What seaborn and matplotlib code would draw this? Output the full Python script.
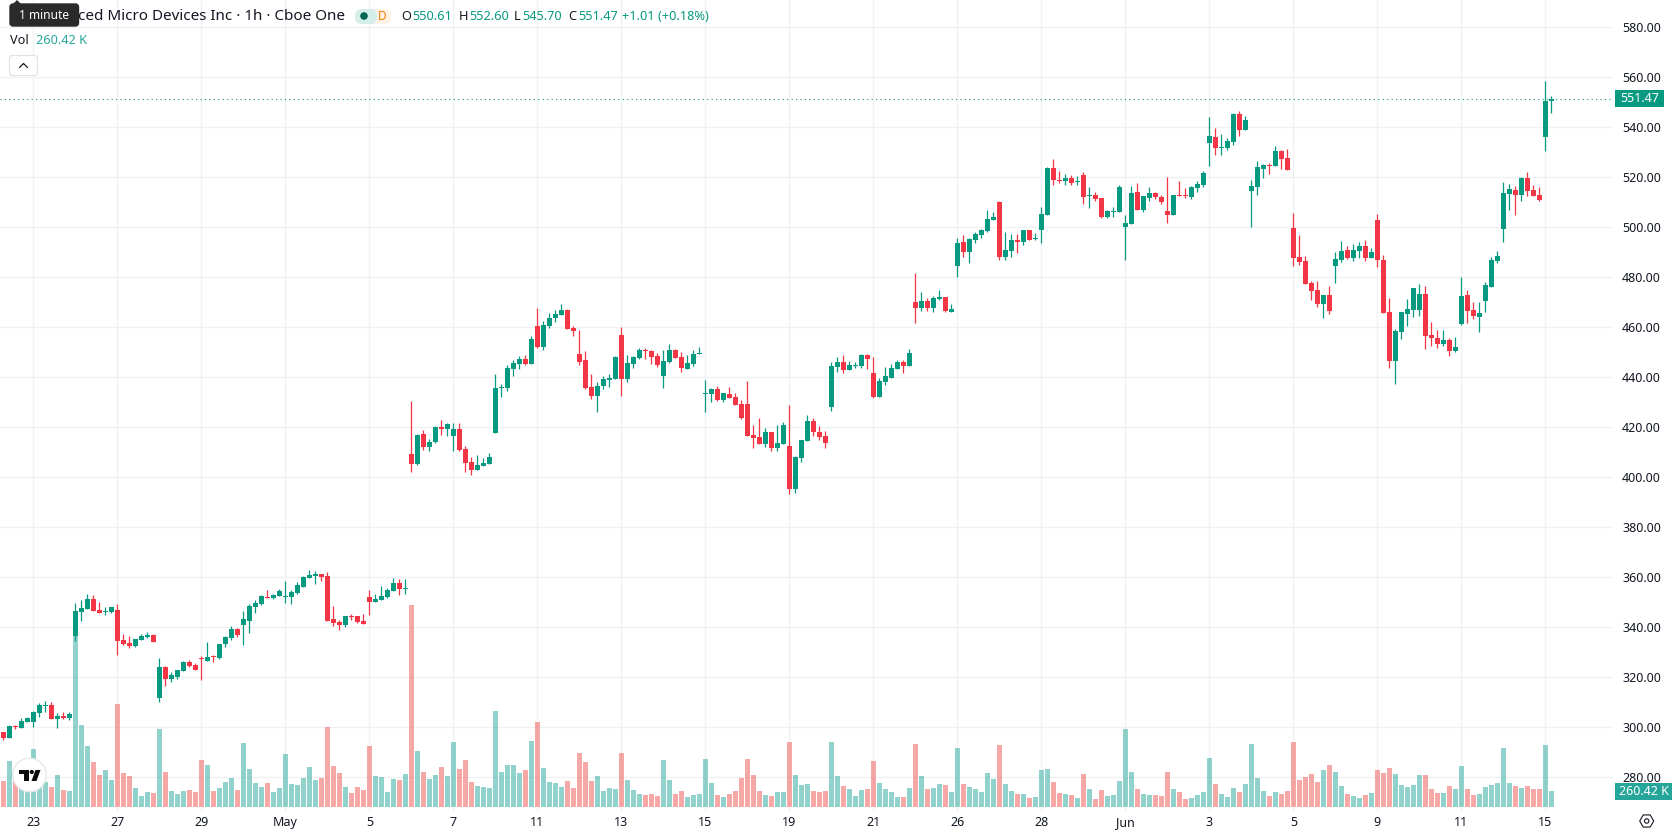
import matplotlib
matplotlib.use("Agg")
import matplotlib.pyplot as plt
from matplotlib.patches import Circle, FancyBboxPatch, Polygon, Rectangle, RegularPolygon
import numpy as np
import pandas as pd
import seaborn as sns

# Hourly session data, oldest first
opens = [
    298.1,295.7,300.4,299.7,302.1,302.1,305.7,308.5,308.9,303.3,
    304.5,303.7,336.5,346.1,347.3,351.3,346.9,346.2,346.1,346.9,
    334.9,333.7,332.5,334.9,336.1,336.9,311.7,324.1,319.3,320.1,
    322.5,326.1,324.9,327.6,326.5,328.7,327.7,333.3,335.7,339.3,
    340.9,342.5,348.1,349.3,352.0,351.7,352.5,352.1,352.1,353.7,
    356.1,359.7,360.7,361.3,360.5,343.3,342.1,340.9,344.5,344.5,
    342.5,352.1,350.1,350.9,352.1,354.5,357.7,355.3,409.5,405.5,
    417.5,412.3,414.3,420.3,419.5,416.7,419.5,411.5,406.3,403.1,
    404.7,405.5,417.9,435.9,435.9,443.5,445.5,447.5,445.5,460.7,
    452.3,460.7,463.9,465.1,467.1,459.9,449.5,447.1,436.3,432.7,
    436.7,439.1,439.5,457.1,439.5,445.5,447.9,451.1,450.7,448.7,
    440.7,446.3,451.1,448.3,443.5,445.5,449.5,433.5,433.5,435.5,
    431.1,433.5,432.3,429.5,429.5,417.1,416.3,413.5,418.3,411.9,
    413.5,412.7,395.5,407.9,414.7,422.7,418.3,416.7,428.3,444.3,
    446.3,443.1,444.5,444.7,449.1,441.9,432.3,438.3,439.9,443.5,
    446.1,444.5,470.1,467.7,470.5,467.7,471.3,472.1,466.1,484.5,
    494.1,490.1,494.9,496.9,498.5,502.9,510.1,488.1,490.5,494.9,
    494.1,498.9,495.3,498.9,504.9,523.7,518.9,518.5,519.7,518.1,
    520.9,512.5,512.9,511.7,504.1,506.1,506.1,500.1,501.3,514.1,
    506.9,511.7,513.7,512.1,506.5,504.9,512.9,512.9,512.1,515.7,
    516.9,533.7,536.1,531.7,531.7,534.1,545.3,538.9,514.5,516.1,
    523.3,524.9,524.5,530.5,527.7,499.7,488.1,486.5,477.7,474.9,
    469.3,472.9,484.5,486.9,490.9,487.7,490.5,492.5,487.7,502.9,
    486.9,466.1,446.5,458.1,465.3,466.9,466.9,473.3,456.9,455.7,
    453.3,454.9,450.5,461.3,472.9,466.9,464.1,470.5,476.1,486.5,
    499.3,513.3,514.9,512.9,519.7,514.9,512.9,536.1,550.61,
]
highs = [
    298.1,300.9,300.9,303.7,304.1,306.5,309.9,310.4,310.1,305.7,
    306.1,306.0,349.7,350.9,353.3,352.9,350.1,348.1,348.1,349.3,
    337.3,336.5,335.3,337.3,338.1,337.3,327.7,324.5,322.1,322.9,
    326.5,326.9,325.7,328.5,334.1,328.9,333.3,336.5,340.5,339.7,
    346.5,349.3,350.9,352.9,354.9,353.3,355.3,358.5,354.9,358.1,
    360.5,362.9,362.5,361.3,362.1,348.5,342.9,344.5,345.3,344.5,
    345.3,354.9,353.3,356.5,355.7,359.7,359.3,359.3,430.7,417.5,
    419.1,415.5,420.7,423.1,421.9,421.9,421.9,412.7,408.3,409.1,
    407.9,409.9,441.5,437.5,445.1,447.1,448.7,449.1,456.7,467.9,
    462.7,465.9,467.1,469.5,467.5,460.7,459.1,450.7,441.5,438.3,
    440.7,441.5,448.7,460.3,449.1,448.7,451.9,451.9,451.1,449.9,
    451.1,453.5,451.5,450.3,449.1,451.1,452.3,439.1,435.9,436.7,
    433.9,436.3,433.9,431.1,438.7,421.1,423.9,419.9,418.3,421.1,
    422.3,429.1,408.7,415.1,425.1,423.9,420.7,418.7,446.3,448.3,
    449.1,446.7,446.3,449.5,449.5,448.3,439.9,444.3,445.5,447.1,
    446.9,451.3,481.7,474.1,471.7,472.5,474.9,472.1,469.3,495.7,
    496.9,495.7,498.1,499.3,506.9,506.1,510.5,498.1,497.3,497.3,
    498.9,498.9,497.7,508.1,524.1,527.3,522.5,521.3,520.9,520.5,
    522.1,516.1,514.1,511.7,506.9,508.1,516.9,504.9,516.5,517.7,
    512.5,516.1,514.1,512.9,520.1,512.9,518.5,515.7,516.5,518.5,
    522.5,544.1,539.7,537.3,535.7,545.7,546.5,544.5,518.9,526.5,
    525.3,525.7,532.5,530.9,531.3,505.7,496.9,488.5,478.5,478.5,
    472.9,476.5,490.1,494.5,492.5,493.3,494.1,494.9,491.7,505.3,
    488.9,471.7,459.3,466.1,471.3,475.7,477.3,476.5,462.1,458.9,
    458.9,455.7,456.1,480.1,474.9,470.1,470.1,478.1,488.1,490.5,
    518.1,517.3,516.5,520.1,522.1,516.9,516.1,558.5,552.60,
]
lows = [
    294.9,295.7,299.3,299.7,302.1,300.1,304.1,306.1,303.3,299.7,
    303.3,302.9,334.5,342.5,347.3,346.5,345.7,344.9,345.7,328.9,
    332.9,331.7,332.1,334.9,335.7,334.1,310.1,316.5,318.1,319.3,
    322.5,324.1,322.9,318.9,326.5,326.1,327.3,332.1,334.9,336.1,
    332.9,337.7,345.7,348.9,351.7,351.3,352.5,349.7,349.3,353.3,
    356.1,359.7,357.3,358.5,342.5,340.5,338.9,340.1,342.9,341.7,
    341.3,344.9,350.1,350.9,351.7,354.5,352.9,353.3,402.3,405.1,
    411.1,410.7,413.9,417.1,416.7,410.7,410.7,402.3,401.1,403.1,
    404.7,405.5,417.9,432.3,434.7,440.7,443.5,445.1,445.5,451.9,
    451.1,459.9,462.3,465.1,459.5,456.7,445.1,435.5,431.5,426.3,
    435.5,436.3,439.5,432.7,438.3,443.9,447.5,447.5,445.5,444.3,
    435.9,445.9,447.9,442.3,443.5,444.7,449.5,426.3,430.3,430.7,
    430.3,431.9,429.1,423.5,416.7,411.9,413.5,412.3,410.7,410.7,
    413.5,393.5,393.9,406.3,414.7,416.7,415.1,411.9,426.7,442.3,
    441.9,443.1,443.9,443.9,443.5,431.9,432.3,437.1,439.9,443.5,
    441.7,444.5,461.7,466.5,466.5,466.1,470.9,466.1,466.1,480.1,
    488.1,485.7,493.7,495.7,498.1,502.9,486.9,486.9,488.1,489.7,
    492.9,494.9,494.9,493.7,504.9,516.9,517.7,516.9,516.9,516.9,
    509.3,507.7,510.5,503.7,503.7,504.1,506.1,486.9,501.3,506.9,
    506.1,510.5,511.3,509.3,501.7,504.9,512.5,511.7,511.3,514.1,
    516.1,524.5,528.9,528.9,530.9,532.9,536.5,538.9,500.1,512.9,
    519.7,521.3,524.5,523.3,522.9,484.5,484.9,477.3,470.9,468.1,
    463.9,465.3,477.7,486.1,487.3,486.5,487.7,486.5,487.7,484.1,
    465.7,443.7,437.3,455.3,460.5,464.1,464.5,451.3,452.5,451.7,
    452.5,448.5,450.1,460.9,461.7,463.3,458.1,466.1,476.1,485.7,
    494.1,506.9,504.9,510.5,512.5,512.5,510.5,530.5,545.70,
]
closes = [
    295.7,300.5,300.0,302.5,303.7,306.1,308.9,308.9,303.3,304.5,
    303.7,305.3,346.5,347.7,351.3,346.5,345.7,346.5,348.1,334.5,
    333.3,332.5,335.3,336.5,336.9,334.1,324.1,319.3,320.9,322.9,
    326.1,324.5,322.9,327.2,328.1,328.3,333.3,336.1,339.3,336.9,
    343.3,348.5,349.7,352.5,351.7,352.9,354.5,352.5,354.1,356.9,
    360.1,360.9,361.3,360.1,342.5,341.7,340.9,344.5,344.1,342.1,
    341.3,350.1,351.3,352.5,354.9,357.7,355.3,355.7,405.5,417.1,
    412.3,414.3,420.3,419.5,421.5,419.5,411.1,405.9,403.1,405.1,
    405.9,408.3,435.9,436.3,443.9,445.9,447.5,445.5,455.5,452.3,
    461.1,463.9,465.5,467.1,459.5,458.7,446.3,435.9,432.7,436.7,
    439.5,439.9,448.3,439.5,445.9,448.3,451.1,450.7,448.3,445.1,
    446.7,451.1,447.9,443.9,445.9,449.5,449.9,433.9,435.5,431.1,
    433.9,431.9,429.1,423.9,416.7,415.9,413.5,418.3,411.9,413.9,
    421.1,395.5,408.3,415.1,422.7,418.3,416.3,413.9,444.7,446.3,
    443.1,445.1,444.9,449.1,447.5,432.3,438.7,440.7,443.9,446.3,
    444.5,449.7,467.7,470.5,467.7,471.7,472.1,466.5,467.3,493.7,
    490.1,495.3,497.3,498.9,503.3,504.1,488.1,490.9,494.9,494.1,
    498.9,494.9,495.7,505.3,523.7,518.9,518.5,519.7,517.7,518.5,
    512.1,512.9,511.3,504.1,506.5,506.5,516.1,501.7,513.7,506.9,
    512.5,513.7,512.1,510.1,504.9,512.9,512.5,512.5,516.1,517.3,
    521.7,536.5,531.7,532.1,534.5,545.3,538.9,542.9,516.5,524.1,
    524.9,524.5,530.5,527.3,522.9,487.7,486.1,477.3,474.5,469.3,
    472.9,466.5,487.3,490.5,487.7,490.9,492.5,487.7,490.1,486.9,
    465.7,446.5,458.5,466.1,467.3,475.7,473.3,456.5,455.7,453.3,
    454.9,450.5,452.1,472.5,466.5,464.5,465.7,476.9,486.9,488.5,
    513.7,515.3,512.9,519.7,514.5,512.5,510.9,550.46,551.47,
]
# Traded volume per bar, thousands of shares
volumes = [
    423,749,440,488,400,944,651,407,326,521,
    277,260,2800,1335,993,733,521,602,440,1677,
    554,505,309,179,244,228,1270,570,260,212,
    260,277,244,765,684,260,309,407,472,277,
    1042,619,391,326,391,244,309,863,374,358,
    472,651,440,472,1302,668,554,326,228,326,
    277,993,505,488,244,456,440,537,3289,912,
    570,456,521,651,505,1058,619,765,407,342,
    326,309,1563,570,684,684,554,602,1075,1384,
    635,407,391,326,423,309,879,733,423,505,
    260,309,293,879,440,277,212,195,212,179,
    765,440,212,260,163,195,212,781,391,195,
    163,212,260,472,781,521,260,195,179,244,
    244,1058,521,358,374,260,244,260,1058,505,
    342,293,179,277,293,749,391,293,244,163,
    163,309,1026,505,293,309,374,358,244,961,
    374,326,293,244,554,456,1009,374,260,212,
    212,147,163,602,619,407,228,212,195,147,
    537,293,130,277,179,195,423,1270,570,293,
    212,195,195,179,570,293,244,130,147,195,
    244,798,374,212,163,309,244,374,1026,472,
    260,179,244,212,260,1058,440,488,537,407,
    602,684,570,342,212,179,147,195,228,602,
    554,635,537,358,326,358,521,521,293,228,
    228,342,293,668,293,195,212,326,358,391,
    961,391,342,309,342,293,293,1009,260.42,
]

date_labels = ["23", "27", "29", "May", "5", "7", "11", "13", "15", "19", "21",
               "26", "28", "Jun", "3", "5", "9", "11", "15"]
date_positions = list(range(5, 258, 14))
price_ticks = list(range(280, 581, 20))

UP = "#089981"
DOWN = "#f23645"
VOL_UP = "#26a69a"
VOL_DOWN = "#ef5350"
GRID = "#f0f1f3"
TEXT = "#131722"
FONT = "Noto Sans"

W, H = 1678, 835
PANE_RIGHT, PANE_BOTTOM = 1613, 811

sns.set_theme(style="white")
plt.rcParams["font.family"] = [FONT, "DejaVu Sans"]

df = pd.DataFrame({"i": np.arange(len(opens)), "open": opens, "high": highs,
                   "low": lows, "close": closes, "volume": volumes})
df["dir"] = np.where(df["close"] >= df["open"], "up", "down")

fig = plt.figure(figsize=(W / 100, H / 100), dpi=100, facecolor="white")
rect = [0, (H - PANE_BOTTOM) / H, PANE_RIGHT / W, PANE_BOTTOM / H]
xlim = (-0.555, 268.28)
ylim = (266.52, 590.92)

# Bottom layer: grid and the price and date scales
grid_ax = fig.add_axes(rect, zorder=0)
grid_ax.set_xlim(xlim)
grid_ax.set_ylim(ylim)
grid_ax.set_xticks(date_positions)
grid_ax.set_xticklabels(date_labels)
grid_ax.set_yticks(price_ticks)
grid_ax.set_yticklabels([f"{p:.2f}" for p in price_ticks])
grid_ax.yaxis.tick_right()
grid_ax.tick_params(axis="y", length=0, pad=6.5, labelsize=9, labelcolor=TEXT)
grid_ax.tick_params(axis="x", length=0, pad=3.5, labelsize=9, labelcolor=TEXT)
grid_ax.grid(True, color=GRID, linewidth=1.0)
grid_ax.set_axisbelow(True)
for spine in grid_ax.spines.values():
    spine.set_visible(False)
for lab in grid_ax.get_xticklabels():
    if lab.get_text() in ("May", "Jun"):
        lab.set_fontweight("bold")

# Volume histogram, pinned to the bottom of the pane
vol_ax = fig.add_axes(rect, zorder=1, facecolor="none")
sns.barplot(data=df, x="i", y="volume", hue="dir", hue_order=["up", "down"],
            palette={"up": VOL_UP, "down": VOL_DOWN}, native_scale=True, dodge=False,
            width=0.86, saturation=1, alpha=0.5, errorbar=None, legend=False,
            linewidth=0, ax=vol_ax)
vol_ax.set_xlim(xlim)
vol_ax.set_ylim(-65, 13138)
vol_ax.axis("off")

# Candles
price_ax = fig.add_axes(rect, zorder=2, facecolor="none")
colors = np.where(df["dir"] == "up", UP, DOWN)
price_ax.vlines(df["i"], df["low"], df["high"], colors=colors, linewidth=0.9)
price_ax.bar(df["i"], (df["close"] - df["open"]).abs(),
             bottom=df[["open", "close"]].min(axis=1),
             width=0.86, color=colors, linewidth=0)
last_close = closes[-1]
price_ax.axhline(last_close, color=UP, linewidth=0.8, linestyle=(0, (1, 3)))
price_ax.set_xlim(xlim)
price_ax.set_ylim(ylim)
price_ax.axis("off")

# Chart furniture, placed in figure pixels
ui = fig.add_axes([0, 0, 1, 1], zorder=3, facecolor="none")
ui.set_xlim(0, W)
ui.set_ylim(H, 0)
ui.axis("off")

# Title, its start covered by the tooltip
ui.text(345, 16, "ced Micro Devices Inc · 1h · Cboe One", ha="right", va="center",
        fontsize=10.95, color=TEXT)

# Tooltip
ui.add_patch(FancyBboxPatch((10, 4), 68.5, 22, boxstyle="round,pad=0,rounding_size=3",
                            fc="#2a2a2a", ec="#2a2a2a", lw=1, mutation_aspect=1))
ui.add_patch(Polygon([(13, 4), (17, 0), (21, 4)], fc="#2a2a2a", ec="none"))
ui.text(44, 15.5, "1 minute", ha="center", va="center", fontsize=8.6, color="white")

# Status badge
ui.add_patch(FancyBboxPatch((355, 9), 36, 15, boxstyle="round,pad=0,rounding_size=7",
                            fc="#fff3e6", ec="none"))
ui.add_patch(FancyBboxPatch((355, 9), 22, 15, boxstyle="round,pad=0,rounding_size=7",
                            fc="#d6eeea", ec="none"))
ui.add_patch(Rectangle((366, 9), 7.5, 15, fc="#d6eeea", ec="none"))
ui.add_patch(Circle((364, 16), 3.8, fc="#056656", ec="none"))
ui.text(382, 16, "D", ha="center", va="center", fontsize=8.5, fontweight="bold", color="#f57c00")

# OHLC readout for the latest bar
change = last_close - closes[-2]
readout = [(401.5, "O", TEXT), (412.5, f"{opens[-1]:.2f}", UP),
           (458.5, "H", TEXT), (469, f"{highs[-1]:.2f}", UP),
           (514, "L", TEXT), (522.5, f"{lows[-1]:.2f}", UP),
           (568.5, "C", TEXT), (578, f"{last_close:.2f}", UP),
           (622.5, f"+{change:.2f} (+{change / closes[-2] * 100:.2f}%)", UP)]
for x, s, c in readout:
    ui.text(x, 16, s, ha="left", va="center", fontsize=9.2, color=c)

ui.text(9.5, 41, "Vol", ha="left", va="center", fontsize=9.2, color=TEXT)
ui.text(36, 41, f"{volumes[-1]:.2f} K", ha="left", va="center", fontsize=9.2, color=VOL_UP)

# Collapse button
ui.add_patch(FancyBboxPatch((9.5, 55.5), 28, 20, boxstyle="round,pad=0,rounding_size=3",
                            fc="white", ec="#e0e3eb", lw=0.9))
ui.plot([19.5, 23.5, 27.5], [67.5, 63.5, 67.5], color=TEXT, lw=0.9)

# Latest price and volume tags on the scale
price_y = H - price_ax.transData.transform((0, last_close))[1]
ui.add_patch(Rectangle((1615, price_y - 8.5), 49, 17, fc=UP, ec="none"))
ui.text(1639.5, price_y, f"{last_close:.2f}", ha="center", va="center", fontsize=9, color="white")
ui.add_patch(Rectangle((1615, 783), 57, 17, fc=VOL_UP, ec="none"))
ui.text(1643.5, 791.5, f"{volumes[-1]:.2f} K", ha="center", va="center", fontsize=9, color="white")

# Scale settings icon
ui.add_patch(RegularPolygon((1646.7, 821), 6, radius=7, orientation=np.pi / 6,
                            fc="none", ec=TEXT, lw=0.8))
ui.add_patch(Circle((1646.7, 821), 2.2, fc="none", ec=TEXT, lw=0.8))

# Round logo badge
ui.add_patch(Circle((29.5, 775), 16.7, fc="white", ec="#e8e8ea", lw=1))
ui.add_patch(Polygon([(19, 770), (29.3, 770), (29.3, 781), (24, 781), (24, 774.3), (19, 774.3)],
                     fc="#0b0b0b", ec="none"))
ui.add_patch(Circle((31.8, 772), 2.1, fc="#0b0b0b", ec="none"))
ui.add_patch(Polygon([(35.5, 770), (40.5, 770), (36.5, 781), (31.5, 781)], fc="#0b0b0b", ec="none"))

fig.savefig("out.png", dpi=100, facecolor="white")
